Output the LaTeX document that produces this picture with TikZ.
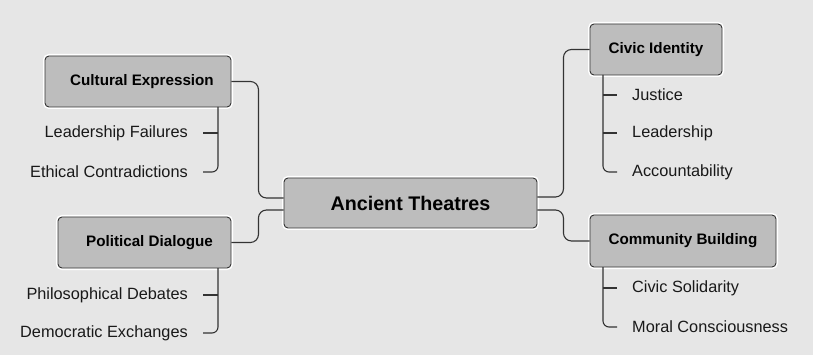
\documentclass[tikz,border=0pt]{standalone}
\usepackage{fontspec}
\setmainfont{Liberation Sans}
\definecolor{bgc}{HTML}{E6E6E6}
\definecolor{boxc}{HTML}{BDBDBD}
\definecolor{linec}{HTML}{333333}
\begin{document}
\begin{tikzpicture}[x=1pt,y=-1pt,
  mainbox/.style={draw=linec, fill=boxc, rounded corners=4pt, line width=0.9pt,
    preaction={draw=white, line width=4pt}, font=\bfseries\fontsize{15.2}{17}\selectfont,
    inner sep=0pt, minimum height=51pt},
  titlebox/.style={mainbox, font=\bfseries\fontsize{19.7}{22}\selectfont},
  leaf/.style={inner sep=0pt, text=black!90, font=\fontsize{16.3}{18}\selectfont},
  conn/.style={draw=linec, line width=1.1pt, rounded corners=8pt},
  tick/.style={draw=linec, line width=1.1pt, rounded corners=6pt}]
\fill[bgc] (0,0) rectangle (813,355);
\useasboundingbox (0,0) rectangle (813,355);

\node[titlebox, minimum width=253pt, minimum height=50pt] (anc) at (410.5,203) {Ancient Theatres};
\node[mainbox, minimum width=186pt] (cult) at (138,81.5) {\hspace{8pt}Cultural Expression};
\node[mainbox, minimum width=173pt] (pol) at (144.5,242.5) {\hspace{10pt}Political Dialogue};
\node[mainbox, minimum width=132pt] (civ) at (656,49.5) {Civic Identity\hspace{4pt}};
\node[mainbox, minimum width=186pt, minimum height=52pt] (com) at (683,241) {Community Building};

% main connectors
\draw[conn] (cult.east) -- ++(27,0) |- ([yshift=5pt]anc.west);
\draw[conn] (pol.east) -- ++(27,0) |- ([yshift=-7pt]anc.west);
\draw[conn] ([yshift=6pt]anc.east) -- ++(26,0) |- (civ.west);
\draw[conn] ([yshift=-7pt]anc.east) -- ++(26,0) |- (com.west);

% left leaves
\node[leaf, anchor=east] (l1) at (188,133) {Leadership Failures};
\node[leaf, anchor=east] (l2) at (188,172) {Ethical Contradictions};
\node[leaf, anchor=east] (l3) at (188,295) {Philosophical Debates};
\node[leaf, anchor=east] (l4) at (188,333) {Democratic Exchanges};
\coordinate (cb) at (218,107);
\coordinate (pb) at (218,268);
\draw[tick] ([xshift=15pt]l1.east) -- (l1.east -| cb);
\draw[tick] (cb) |- ([xshift=15pt]l2.east);
\draw[tick] ([xshift=15pt]l3.east) -- (l3.east -| pb);
\draw[tick] (pb) |- ([xshift=15pt]l4.east);

% right leaves
\node[leaf, anchor=west] (r1) at (632,95) {Justice};
\node[leaf, anchor=west] (r2) at (632,133) {Leadership};
\node[leaf, anchor=west] (r3) at (632,172) {Accountability};
\node[leaf, anchor=west] (r4) at (632,288) {Civic Solidarity};
\node[leaf, anchor=west] (r5) at (632,327) {Moral Consciousness};
\coordinate (ib) at (603,75);
\coordinate (mb) at (603,267);
\draw[tick] (r1.west -| ib) -- ([xshift=-15pt]r1.west);
\draw[tick] (r2.west -| ib) -- ([xshift=-15pt]r2.west);
\draw[tick] (ib) |- ([xshift=-15pt]r3.west);
\draw[tick] (r4.west -| mb) -- ([xshift=-15pt]r4.west);
\draw[tick] (mb) |- ([xshift=-15pt]r5.west);
\end{tikzpicture}
\end{document}
